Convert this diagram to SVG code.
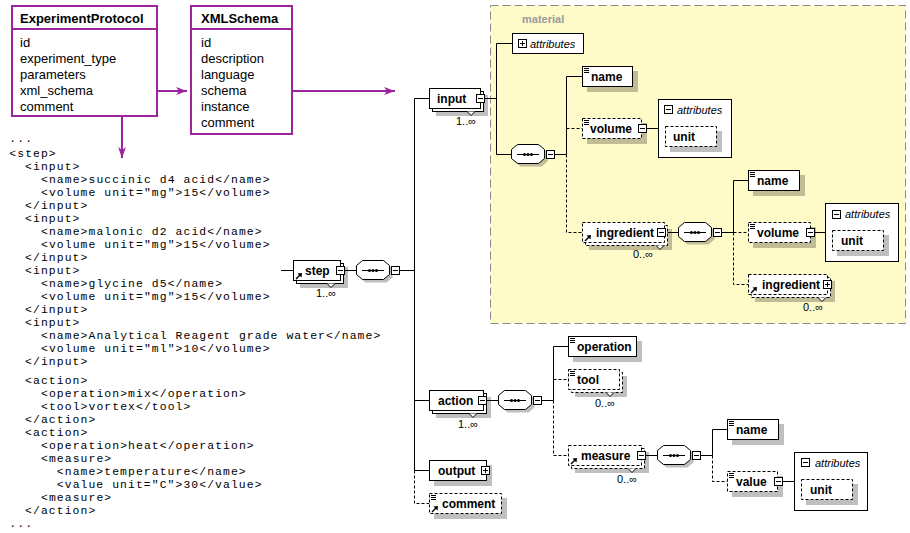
<svg xmlns="http://www.w3.org/2000/svg" xmlns:xlink="http://www.w3.org/1999/xlink" width="910" height="533" viewBox="0 0 910 533">
<style>
.b{fill:#fff;stroke:#000;stroke-width:1}
.d{fill:#fff;stroke:#000;stroke-width:1;stroke-dasharray:3 2}
.s{fill:#000;fill-opacity:.25;stroke:none}
.l{fill:none;stroke:#000;stroke-width:1}
.dl{fill:none;stroke:#000;stroke-width:1;stroke-dasharray:3 2}
.t{font-family:"Liberation Sans",Arial,sans-serif;font-weight:bold;font-size:12px;fill:#000}
.a{font-family:"Liberation Sans",Arial,sans-serif;font-style:italic;font-size:11px;fill:#000}
.m{font-family:"Liberation Sans",Arial,sans-serif;font-size:11px;fill:#000;text-anchor:middle}
.pb{fill:#fff;stroke:#9e249d;stroke-width:2}
.pl{fill:none;stroke:#9e249d;stroke-width:2}
.ph{font-family:"Liberation Sans",Arial,sans-serif;font-weight:bold;font-size:13px;fill:#000}
.pt{font-family:"Liberation Sans",Arial,sans-serif;font-size:13px;fill:#000}
.c{font-family:"Liberation Mono","Courier New",monospace;font-size:11.4px;letter-spacing:1.08px;fill:#000}
.y{fill:#fffbc9;stroke:#8a8a8a;stroke-width:1;stroke-dasharray:8 4}
.mat{font-family:"Liberation Sans",Arial,sans-serif;font-weight:bold;font-size:11px;fill:#9a9a9a}
</style>
<defs>
<marker id="pa" markerWidth="12" markerHeight="10" refX="11" refY="5" orient="auto" markerUnits="userSpaceOnUse">
<path d="M0,1 L11,5 L0,9 L3,5 z" fill="#9e249d"/>
</marker>
<g id="minus"><rect x=".5" y=".5" width="8" height="8" class="b"/><path d="M2,4.5H7" class="l"/></g>
<g id="plus"><rect x=".5" y=".5" width="8" height="8" class="b"/><path d="M2,4.5H7M4.5,2V7" class="l"/></g>
<g id="seq">
<polygon points="3.5,8.5 9.5,3.5 30.5,3.5 36.5,8.5 36.5,17.5 30.5,22.5 9.5,22.5 3.5,17.5" class="s"/>
<polygon points="0.5,5.5 6.5,0.5 27.5,0.5 33.5,5.5 33.5,14.5 27.5,19.5 6.5,19.5 0.5,14.5" class="b"/>
<path d="M6,10.5H28" class="l"/>
<circle cx="13.5" cy="10.5" r="1.5"/><circle cx="17" cy="10.5" r="1.5"/><circle cx="20.5" cy="10.5" r="1.5"/>
</g>
<g id="eq"><path d="M0,.5H5M0,2.5H5M0,4.5H5" class="l"/></g>
<g id="ref"><path d="M1,7L5,3" stroke="#000" stroke-width="1.4"/><polygon points="7,1 2.5,1.5 6.5,5.5" fill="#000"/></g>
<path id="notch" d="M-4,0L0,4L4,0" class="b"/>
</defs>
<rect width="910" height="533" fill="#fff"/>

<!-- material region -->
<g id="material-group">
<rect x="490.5" y="5.5" width="415" height="318" class="y"/>
<text x="522" y="23" class="mat">material</text>
</g>

<!-- connectors -->
<g id="connectors">
<path d="M89,75H122V158" class="pl" marker-end="url(#pa)"/>
<path d="M97,91H187" class="pl" marker-end="url(#pa)"/>
<path d="M252,91H395" class="pl" marker-end="url(#pa)"/>
<path d="M281,270.5H293.5M345,270.5H356M400,270.5H414.5" class="l"/>
<path d="M414.5,98.5V470.5M414.5,98.5H429.5M414.5,400.5H429.5M414.5,470.5H429.5" class="l"/>
<path d="M414.5,470.5V503.5H429.5" class="dl"/>
<path d="M485,98.5H496.5M496.5,43.5V154.5M496.5,43.5H512.5M496.5,154.5H511M555,154.5H566.5M566.5,76.5V154.5M566.5,76.5H582.5" class="l"/>
<path d="M566.5,154.5V232.5H582.5M566.5,128.5H582.5" class="dl"/>
<path d="M647,128.5H658.5" class="l"/>
<path d="M666,232.5H678M722,232.5H733.5M733.5,180.5V232.5M733.5,180.5H748.5M815,232.5H825.5" class="l"/>
<path d="M733.5,232.5V284.5H748.5M733.5,232.5H748.5" class="dl"/>
<path d="M487,400.5H498M542,400.5H553.5M553.5,346.5V400.5M553.5,346.5H568.5" class="l"/>
<path d="M553.5,400.5V455.5H568.5M553.5,379.5H568.5" class="dl"/>
<path d="M646,455.5H657M701,455.5H712.5M712.5,429.5V455.5M712.5,429.5H727.5M783,481.5H794.5" class="l"/>
<path d="M712.5,455.5V481.5H727.5" class="dl"/>
</g>

<!-- ER boxes -->
<g id="ExperimentProtocol">
<rect x="12" y="6" width="145" height="110" class="pb"/>
<path d="M12,29H157" class="pl"/>
<text x="20" y="22.5" class="ph">ExperimentProtocol</text>
<text x="20" y="46.5" class="pt">id</text>
<text x="20" y="62.5" class="pt">experiment_type</text>
<text x="20" y="78.5" class="pt">parameters</text>
<text x="20" y="94.5" class="pt">xml_schema</text>
<text x="20" y="110.5" class="pt">comment</text>
</g>
<g id="XMLSchema">
<rect x="191" y="6" width="101" height="128" class="pb"/>
<path d="M191,29H292" class="pl"/>
<text x="201" y="22.5" class="ph">XMLSchema</text>
<text x="201" y="46.5" class="pt">id</text>
<text x="201" y="62.5" class="pt">description</text>
<text x="201" y="78.5" class="pt">language</text>
<text x="201" y="94.5" class="pt">schema</text>
<text x="201" y="110.5" class="pt">instance</text>
<text x="201" y="126.5" class="pt">comment</text>
</g>

<!-- XML instance text -->
<g id="xml-instance">
<text x="9.3" y="142" class="c">...</text>
<text x="9.3" y="156.5" class="c">&lt;step&gt;</text>
<text x="25.1" y="169.5" class="c">&lt;input&gt;</text>
<text x="41" y="182.5" class="c">&lt;name&gt;succinic d4 acid&lt;/name&gt;</text>
<text x="41" y="195.5" class="c">&lt;volume unit="mg"&gt;15&lt;/volume&gt;</text>
<text x="25.1" y="208.5" class="c">&lt;/input&gt;</text>
<text x="25.1" y="221.5" class="c">&lt;input&gt;</text>
<text x="41" y="234.5" class="c">&lt;name&gt;malonic d2 acid&lt;/name&gt;</text>
<text x="41" y="247.5" class="c">&lt;volume unit="mg"&gt;15&lt;/volume&gt;</text>
<text x="25.1" y="260.5" class="c">&lt;/input&gt;</text>
<text x="25.1" y="273.5" class="c">&lt;input&gt;</text>
<text x="41" y="286.5" class="c">&lt;name&gt;glycine d5&lt;/name&gt;</text>
<text x="41" y="299.5" class="c">&lt;volume unit="mg"&gt;15&lt;/volume&gt;</text>
<text x="25.1" y="312.5" class="c">&lt;/input&gt;</text>
<text x="25.1" y="325.5" class="c">&lt;input&gt;</text>
<text x="41" y="338.5" class="c">&lt;name&gt;Analytical Reagent grade water&lt;/name&gt;</text>
<text x="41" y="351.5" class="c">&lt;volume unit="ml"&gt;10&lt;/volume&gt;</text>
<text x="25.1" y="364.5" class="c">&lt;/input&gt;</text>
<text x="25.1" y="384" class="c">&lt;action&gt;</text>
<text x="41" y="397" class="c">&lt;operation&gt;mix&lt;/operation&gt;</text>
<text x="41" y="410" class="c">&lt;tool&gt;vortex&lt;/tool&gt;</text>
<text x="25.1" y="423" class="c">&lt;/action&gt;</text>
<text x="25.1" y="436" class="c">&lt;action&gt;</text>
<text x="41" y="449" class="c">&lt;operation&gt;heat&lt;/operation&gt;</text>
<text x="41" y="462" class="c">&lt;measure&gt;</text>
<text x="56.8" y="475" class="c">&lt;name&gt;temperature&lt;/name&gt;</text>
<text x="56.8" y="488" class="c">&lt;value unit="C"&gt;30&lt;/value&gt;</text>
<text x="41" y="501" class="c">&lt;measure&gt;</text>
<text x="25.1" y="514" class="c">&lt;/action&gt;</text>
<text x="9.3" y="527" class="c">...</text>
</g>

<!-- schema nodes -->
<g id="step">
<rect x="300" y="267" width="48" height="21" class="s"/>
<rect x="296.5" y="263.5" width="47" height="20" class="b"/>
<rect x="293.5" y="260.5" width="47" height="20" class="b"/>
<use xlink:href="#ref" x="295" y="272"/>
<text x="305" y="275" class="t">step</text>
<use xlink:href="#minus" x="336" y="266"/>
<use xlink:href="#notch" x="331" y="283.5"/>
<text x="326" y="297" class="m">1..∞</text>
</g>
<g id="step-seq"><use xlink:href="#seq" x="356" y="260"/><use xlink:href="#minus" x="391" y="266"/></g>

<g id="input">
<rect x="436" y="95" width="52" height="21" class="s"/>
<rect x="432.5" y="91.5" width="51" height="20" class="b"/>
<rect x="429.5" y="88.5" width="51" height="20" class="b"/>
<text x="437" y="103" class="t">input</text>
<use xlink:href="#minus" x="476" y="94"/>
<use xlink:href="#notch" x="471" y="111.5"/>
<text x="466" y="125" class="m">1..∞</text>
</g>

<g id="material-attributes">
<rect x="512.5" y="33.5" width="71" height="20" class="b"/>
<use xlink:href="#plus" x="518" y="39"/>
<text x="530" y="48" class="a">attributes</text>
</g>
<g id="material-seq"><use xlink:href="#seq" x="511" y="144"/><use xlink:href="#minus" x="546" y="150"/></g>

<g id="material-name">
<rect x="587" y="71" width="51" height="21" class="s"/>
<rect x="582.5" y="66.5" width="50" height="20" class="b"/>
<use xlink:href="#eq" x="584" y="68"/>
<text x="591" y="81" class="t">name</text>
</g>
<g id="material-volume">
<rect x="587" y="123" width="60" height="21" class="s"/>
<rect x="582.5" y="118.5" width="59" height="20" class="d"/>
<use xlink:href="#eq" x="584" y="120"/>
<text x="590" y="133" class="t">volume</text>
<use xlink:href="#minus" x="638" y="124"/>
</g>
<g id="material-volume-attributes">
<rect x="658.5" y="99.5" width="73" height="58" class="b"/>
<use xlink:href="#minus" x="664" y="105"/>
<text x="677" y="114" class="a">attributes</text>
<rect x="670" y="131" width="52" height="21" class="s"/>
<rect x="665.5" y="126.5" width="51" height="20" class="d"/>
<text x="673" y="141" class="t">unit</text>
</g>

<g id="ingredient">
<rect x="589" y="229" width="83" height="21" class="s"/>
<rect x="585.5" y="225.5" width="82" height="20" class="d"/>
<rect x="582.5" y="222.5" width="82" height="20" class="d"/>
<use xlink:href="#ref" x="584" y="234"/>
<text x="596" y="237" class="t">ingredient</text>
<use xlink:href="#minus" x="657" y="228"/>
<use xlink:href="#notch" x="660" y="245.5"/>
<text x="643" y="258" class="m">0..∞</text>
</g>
<g id="ingredient-seq"><use xlink:href="#seq" x="678" y="222"/><use xlink:href="#minus" x="713" y="228"/></g>
<g id="ingredient-name">
<rect x="753" y="175" width="52" height="21" class="s"/>
<rect x="748.5" y="170.5" width="51" height="20" class="b"/>
<use xlink:href="#eq" x="750" y="172"/>
<text x="757" y="185" class="t">name</text>
</g>
<g id="ingredient-volume">
<rect x="753" y="227" width="63" height="21" class="s"/>
<rect x="748.5" y="222.5" width="62" height="20" class="d"/>
<use xlink:href="#eq" x="750" y="224"/>
<text x="757" y="237" class="t">volume</text>
<use xlink:href="#minus" x="806" y="228"/>
</g>
<g id="ingredient-volume-attributes">
<rect x="825.5" y="203.5" width="73" height="58" class="b"/>
<use xlink:href="#minus" x="832" y="210"/>
<text x="845" y="218" class="a">attributes</text>
<rect x="837" y="235" width="52" height="21" class="s"/>
<rect x="832.5" y="230.5" width="51" height="20" class="d"/>
<text x="841" y="245" class="t">unit</text>
</g>
<g id="ingredient-ref">
<rect x="755" y="281" width="80" height="21" class="s"/>
<rect x="751.5" y="277.5" width="79" height="20" class="d"/>
<rect x="748.5" y="274.5" width="79" height="20" class="d"/>
<use xlink:href="#ref" x="750" y="286"/>
<text x="762" y="289" class="t">ingredient</text>
<use xlink:href="#plus" x="823" y="280"/>
<use xlink:href="#notch" x="822" y="297.5"/>
<text x="813" y="311" class="m">0..∞</text>
</g>

<g id="action">
<rect x="436" y="397" width="55" height="21" class="s"/>
<rect x="432.5" y="393.5" width="54" height="20" class="b"/>
<rect x="429.5" y="390.5" width="54" height="20" class="b"/>
<text x="438" y="405" class="t">action</text>
<use xlink:href="#minus" x="478" y="396"/>
<use xlink:href="#notch" x="473" y="413.5"/>
<text x="468" y="428" class="m">1..∞</text>
</g>
<g id="action-seq"><use xlink:href="#seq" x="498" y="390"/><use xlink:href="#minus" x="533" y="396"/></g>
<g id="operation">
<rect x="573" y="341" width="69" height="21" class="s"/>
<rect x="568.5" y="336.5" width="68" height="20" class="b"/>
<use xlink:href="#eq" x="570" y="338"/>
<text x="577" y="351" class="t">operation</text>
</g>
<g id="tool">
<rect x="575" y="376" width="52" height="21" class="s"/>
<rect x="571.5" y="372.5" width="51" height="20" class="d"/>
<rect x="568.5" y="369.5" width="51" height="20" class="d"/>
<use xlink:href="#eq" x="570" y="371"/>
<text x="577" y="384" class="t">tool</text>
<use xlink:href="#notch" x="610" y="392.5"/>
<text x="605" y="407" class="m">0..∞</text>
</g>
<g id="measure">
<rect x="575" y="452" width="74" height="21" class="s"/>
<rect x="571.5" y="448.5" width="73" height="20" class="d"/>
<rect x="568.5" y="445.5" width="73" height="20" class="d"/>
<use xlink:href="#ref" x="570" y="457"/>
<text x="581" y="460" class="t">measure</text>
<use xlink:href="#minus" x="637" y="451"/>
<use xlink:href="#notch" x="632" y="468.5"/>
<text x="627" y="483" class="m">0..∞</text>
</g>
<g id="measure-seq"><use xlink:href="#seq" x="657" y="445"/><use xlink:href="#minus" x="692" y="451"/></g>
<g id="measure-name">
<rect x="732" y="424" width="52" height="21" class="s"/>
<rect x="727.5" y="419.5" width="51" height="20" class="b"/>
<use xlink:href="#eq" x="729" y="421"/>
<text x="736" y="434" class="t">name</text>
</g>
<g id="measure-value">
<rect x="732" y="476" width="51" height="21" class="s"/>
<rect x="727.5" y="471.5" width="50" height="20" class="d"/>
<use xlink:href="#eq" x="729" y="473"/>
<text x="736" y="486" class="t">value</text>
<use xlink:href="#minus" x="774" y="477"/>
</g>
<g id="measure-value-attributes">
<rect x="794.5" y="452.5" width="73" height="58" class="b"/>
<use xlink:href="#minus" x="801" y="458"/>
<text x="815" y="467" class="a">attributes</text>
<rect x="806" y="484" width="52" height="21" class="s"/>
<rect x="801.5" y="479.5" width="51" height="20" class="d"/>
<text x="810" y="494" class="t">unit</text>
</g>
<g id="output">
<rect x="434" y="465" width="58" height="21" class="s"/>
<rect x="429.5" y="460.5" width="57" height="20" class="b"/>
<text x="438" y="475" class="t">output</text>
<use xlink:href="#plus" x="481" y="466"/>
</g>
<g id="comment">
<rect x="434" y="498" width="73" height="21" class="s"/>
<rect x="429.5" y="493.5" width="72" height="20" class="d"/>
<use xlink:href="#eq" x="431" y="495"/>
<use xlink:href="#ref" x="431" y="505"/>
<text x="442" y="508" class="t">comment</text>
</g>
</svg>
